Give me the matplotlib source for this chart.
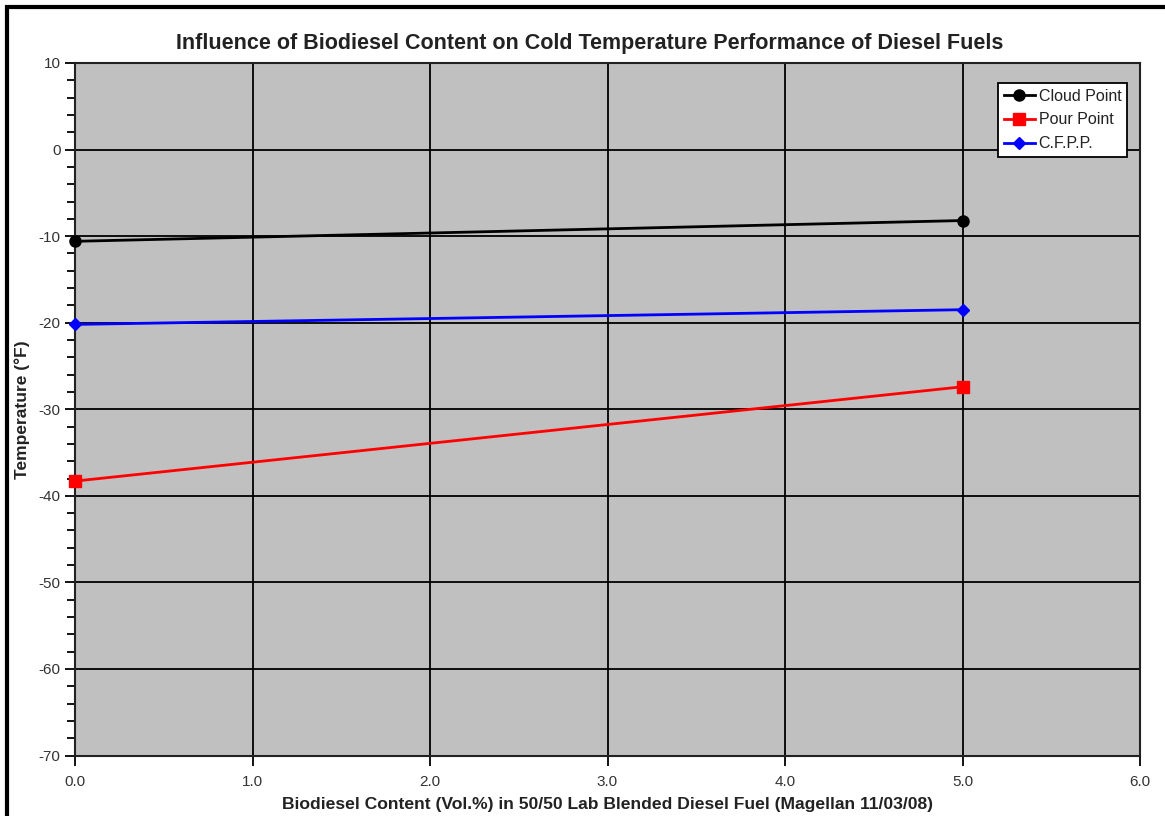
import matplotlib
matplotlib.use("Agg")
import matplotlib.pyplot as plt
from matplotlib.patches import Rectangle
from matplotlib.ticker import MultipleLocator, FormatStrFormatter

plt.rcParams['font.family'] = ['Liberation Sans', 'DejaVu Sans']
plt.rcParams['axes.unicode_minus'] = False

biodiesel = [0.0, 5.0]
cloud_point = [-10.6, -8.2]
pour_point = [-38.3, -27.4]
cfpp = [-20.2, -18.5]

fig = plt.figure(figsize=(11.65, 8.16), dpi=100)
fig.patch.set_facecolor('white')

# outer frame
fig.add_artist(Rectangle((7/1165, -0.1), 1.2, 1 - 7/816 + 0.1, transform=fig.transFigure,
                         fill=False, edgecolor='black', linewidth=3, zorder=0))

ax = fig.add_axes([75/1165, 1 - 755.5/816, (1140 - 75)/1165, (755.5 - 63)/816])
ax.set_facecolor('#C0C0C0')

ax.plot(biodiesel, cloud_point, color='black', marker='o', markersize=8, linewidth=2,
        label='Cloud Point', clip_on=False, zorder=5)
ax.plot(biodiesel, pour_point, color='#FF0000', marker='s', markersize=9, linewidth=2,
        label='Pour Point', clip_on=False, zorder=5)
ax.plot(biodiesel, cfpp, color='#0000FF', marker='D', markersize=6, linewidth=2,
        label='C.F.P.P.', clip_on=False, zorder=5)

ax.set_xlim(0, 6)
ax.set_ylim(-70, 10)
ax.xaxis.set_major_locator(MultipleLocator(1.0))
ax.xaxis.set_major_formatter(FormatStrFormatter('%.1f'))
ax.yaxis.set_major_locator(MultipleLocator(10))
ax.yaxis.set_minor_locator(MultipleLocator(2))
ax.grid(True, which='major', color='black', linewidth=1.3)
ax.set_axisbelow(True)

ax.tick_params(axis='both', which='major', direction='out', length=7, width=1.3,
               labelsize=11, colors='black', labelcolor='#333333')
ax.tick_params(axis='y', which='minor', direction='out', length=6, width=1.3)
ax.tick_params(axis='x', pad=7)
for s in ax.spines.values():
    s.set_linewidth(1.5)
    s.set_color('#222222')

fig.text(590 / 1165, 1 - 43 / 816,
         'Influence of Biodiesel Content on Cold Temperature Performance of Diesel Fuels',
         fontsize=15.5, fontweight='bold', color='#222222', ha='center', va='center')
ax.set_xlabel('Biodiesel Content (Vol.%) in 50/50 Lab Blended Diesel Fuel (Magellan 11/03/08)',
              fontsize=12.6, fontweight='bold', color='#222222', labelpad=6)
ax.set_ylabel('Temperature (°F)', fontsize=12.5, fontweight='bold', color='#222222')
ax.yaxis.label.set_va('center')
ax.yaxis.set_label_coords((22 - 75) / 1065, 0.5)

leg = ax.legend(loc='upper right', bbox_to_anchor=((1127 - 75) / 1065, 1 - 20 / 692.5),
                frameon=True, fancybox=False, fontsize=11.5, handlelength=2.0,
                handletextpad=0.2, borderpad=0.35, labelspacing=0.55, borderaxespad=0)
leg.get_frame().set_edgecolor('black')
leg.get_frame().set_linewidth(1.3)
leg.get_frame().set_facecolor('white')
leg.get_frame().set_alpha(1)
for t in leg.get_texts():
    t.set_color('#222222')

fig.savefig('out.png', dpi=100, facecolor='white')
